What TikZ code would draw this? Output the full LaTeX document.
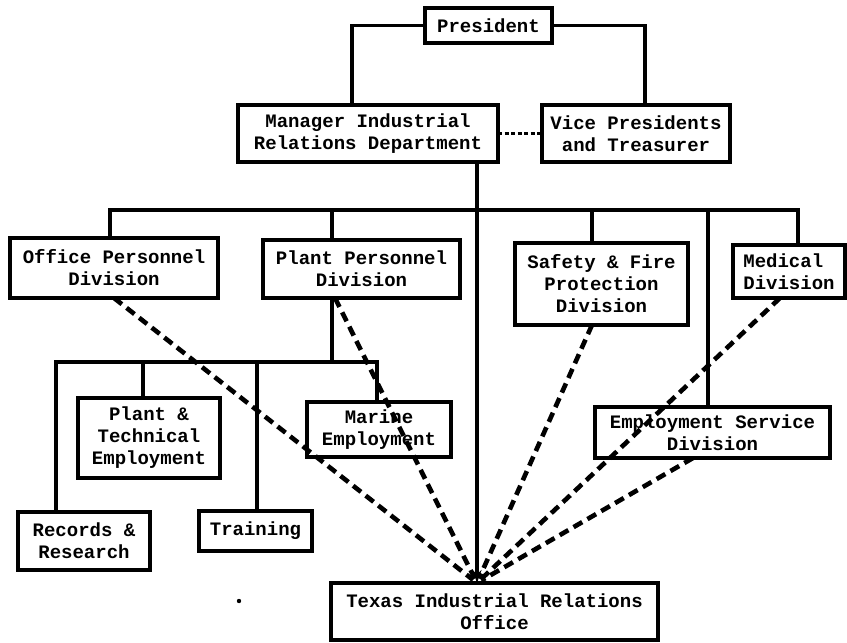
\documentclass[tikz,border=0pt]{standalone}
\usepackage{fontspec}
\setmainfont{Liberation Mono}
\usetikzlibrary{arrows.meta}
\begin{document}
\begin{tikzpicture}[x=1pt,y=-1pt,
  orgbox/.style={draw, line width=3.6pt, inner sep=0pt, outer sep=0pt, align=center,
    font=\fontsize{19}{22}\selectfont\bfseries},
  solidline/.style={line width=3.4pt},
  dashline/.style={line width=4.6pt, dash pattern=on 10pt off 6pt},
  dotline/.style={line width=2.8pt, dash pattern=on 4pt off 2.5pt}]
\fill[white] (0,0) rectangle (847,643);
\useasboundingbox (0,0) rectangle (847,643);
% boxes
\node[orgbox, minimum width=127pt, minimum height=35pt] (pres) at (488.5,25.5) {President};
\node[orgbox, minimum width=260pt, minimum height=57pt] (mgr) at (368,133.5) {Manager Industrial\\Relations Department};
\node[orgbox, minimum width=188pt, minimum height=57pt] (vp) at (636,133.5) {Vice Presidents\\and Treasurer};
\node[orgbox, minimum width=208pt, minimum height=60pt] (office) at (114,268) {Office Personnel\\Division};
\node[orgbox, minimum width=197pt, minimum height=58pt] (plant) at (361.5,269) {Plant Personnel\\Division};
\node[orgbox, minimum width=173pt, minimum height=82pt] (safety) at (601.5,284) {Safety \& Fire\\Protection\\Division};
\node[orgbox, minimum width=112pt, minimum height=53pt, align=left] (medical) at (789,271.5) {Medical\\Division};
\node[orgbox, minimum width=142pt, minimum height=80pt] (ptech) at (149,438) {Plant \&\\Technical\\Employment};
\node[orgbox, minimum width=144pt, minimum height=55pt] (marine) at (379,429.5) {Marine\\Employment};
\node[orgbox, minimum width=235pt, minimum height=51pt] (empserv) at (712.5,432.5) {Employment Service\\Division};
\node[orgbox, minimum width=132pt, minimum height=58pt] (records) at (84,541) {Records \&\\Research};
\node[orgbox, minimum width=113pt, minimum height=40pt] (training) at (255.5,531) {Training};
\node[orgbox, minimum width=327pt, minimum height=57pt] (texas) at (494.5,611.5) {Texas Industrial Relations\\Office};
% junction coordinates
\coordinate (xA) at (352,0);
\coordinate (xB) at (645,0);
\coordinate (xM) at (477,0);
\coordinate (bus) at (0,210);
\coordinate (xO) at (110,0);
\coordinate (xP) at (332,0);
\coordinate (xS) at (592,0);
\coordinate (xE) at (708,0);
\coordinate (xD) at (798,0);
\coordinate (sub) at (0,362);
\coordinate (xR) at (56,0);
\coordinate (xT) at (143,0);
\coordinate (xTr) at (257,0);
\coordinate (xMa) at (377,0);
\coordinate (conv) at (texas.north -| xM);
% solid connectors
\draw[solidline] (pres.west) -| (mgr.north -| xA);
\draw[solidline] (pres.east) -| (vp.north -| xB);
\draw[dotline] (mgr.east) -- (vp.west);
\draw[solidline, -{Stealth[length=13pt,width=9pt]}] (mgr.south -| xM) -- (conv);
\draw[solidline] (office.north -| xO) |- (bus -| xD) -- (medical.north -| xD);
\draw[solidline] (bus -| xP) -- (plant.north -| xP);
\draw[solidline] (bus -| xS) -- (safety.north -| xS);
\draw[solidline] (bus -| xE) -- (empserv.north -| xE);
\draw[solidline] (plant.south -| xP) -- (sub -| xP);
\draw[solidline] (records.north -| xR) |- (sub -| xMa) -- (marine.north -| xMa);
\draw[solidline] (sub -| xT) -- (ptech.north -| xT);
\draw[solidline] (sub -| xTr) -- (training.north -| xTr);
% dashed connectors
\draw[dashline, shorten >=5pt] (office.south) -- (conv);
\draw[dashline, shorten >=5pt] ([xshift=3pt]plant.south -| xP) -- (conv);
\draw[dashline, shorten >=5pt] (safety.south -| xS) -- (conv);
\draw[dashline, shorten >=5pt] ([xshift=-9pt]medical.south) -- (conv);
\draw[dashline, shorten >=5pt] ([xshift=-19.5pt]empserv.south) -- (conv);
% speck
\fill (239,601) circle (2.2pt);
\end{tikzpicture}
\end{document}
